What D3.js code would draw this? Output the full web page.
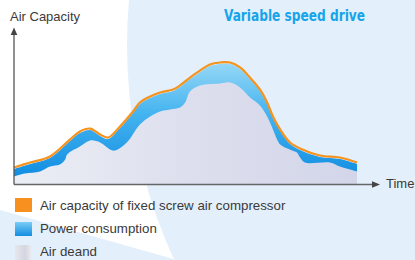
<!DOCTYPE html>
<html>
<head>
<meta charset="utf-8">
<script src="https://cdn.jsdelivr.net/npm/d3@7"></script>
<style>
  body { margin: 0; background: #fff; }
  svg { display: block; font-family: "Liberation Sans", Arial, sans-serif; }
</style>
</head>
<body>
<div class="chart"></div>
<script>
var svgWidth = 415;
var svgHeight = 260;

// time runs 0..100 along the x axis, values 0..100 up the y axis
var capTime = [0, 4.7, 10.5, 16.3, 19.2, 22.2, 25.1, 27.4, 30.9, 34.7, 36.7, 39.7, 42.6, 46.4, 48.4, 51.3,
    54.2, 57.1, 60.1, 63.0, 65.9, 68.8, 71.7, 73.8, 75.5, 77.6, 80.5, 83.4, 89.2, 95.0, 100];
var capacity = [11.0, 14.2, 18.1, 29.0, 34.2, 36.1, 32.3, 30.3, 37.4, 47.1, 52.9, 56.8, 59.4, 61.3, 63.9, 69.0,
    73.5, 77.4, 78.7, 78.7, 75.5, 69.0, 61.3, 52.9, 43.9, 35.5, 27.1, 23.2, 18.7, 17.4, 14.2];
var power = [10.0, 13.2, 17.1, 28.0, 33.2, 35.1, 31.3, 29.3, 36.4, 46.1, 51.9, 55.8, 58.4, 60.3, 62.9, 68.0,
    72.5, 76.4, 77.7, 77.7, 74.5, 68.0, 60.3, 51.9, 42.9, 34.5, 26.1, 22.2, 17.7, 16.4, 13.2];

var demandTime = [0, 3.2, 7.6, 10.5, 13.4, 14.9, 15.5, 19.2, 22.2, 25.1, 28.0, 29.4, 32.9, 36.7, 39.7, 42.6,
    45.5, 48.4, 49.9, 51.3, 54.2, 60.1, 63.0, 65.9, 68.8, 71.7, 73.8, 75.5, 76.7, 77.6, 79.0, 81.9, 82.5,
    83.4, 84.8, 92.1, 95.0, 100];
var demand = [5.2, 7.1, 8.4, 11.6, 12.9, 16.1, 19.4, 24.5, 28.4, 27.1, 22.6, 21.9, 27.1, 38.7, 43.9, 47.1,
    48.4, 49.7, 52.9, 60.0, 63.9, 65.2, 65.8, 62.6, 56.1, 51.0, 43.9, 35.5, 29.0, 25.8, 23.9, 21.3, 20.6,
    17.4, 14.2, 14.2, 11.6, 8.4];

var legendLabels = ["Air capacity of fixed screw air compressor", "Power consumption", "Air deand"];

var svg = d3.select(".chart")
    .append("svg")
    .attr("width", svgWidth)
    .attr("height", svgHeight);

var defs = svg.append("defs");

var blueGrad = defs.append("linearGradient").attr("id", "blueGrad")
    .attr("gradientUnits", "userSpaceOnUse")
    .attr("x1", 0).attr("y1", 62).attr("x2", 0).attr("y2", 175);
blueGrad.append("stop").attr("offset", 0).attr("stop-color", "#98d8f6");
blueGrad.append("stop").attr("offset", 0.45).attr("stop-color", "#45b4f0");
blueGrad.append("stop").attr("offset", 1).attr("stop-color", "#138fe2");

var greyGrad = defs.append("linearGradient").attr("id", "greyGrad")
    .attr("gradientUnits", "userSpaceOnUse")
    .attr("x1", 14).attr("y1", 0).attr("x2", 357).attr("y2", 0);
greyGrad.append("stop").attr("offset", 0).attr("stop-color", "#eceef5");
greyGrad.append("stop").attr("offset", 0.5).attr("stop-color", "#dddfee");
greyGrad.append("stop").attr("offset", 1).attr("stop-color", "#d3d6e9");

var swBlue = defs.append("linearGradient").attr("id", "swBlue")
    .attr("x1", 0).attr("y1", 0).attr("x2", 0).attr("y2", 1);
swBlue.append("stop").attr("offset", 0).attr("stop-color", "#7acdf6");
swBlue.append("stop").attr("offset", 1).attr("stop-color", "#128ee0");

var swGrey = defs.append("linearGradient").attr("id", "swGrey")
    .attr("x1", 0).attr("y1", 0).attr("x2", 1).attr("y2", 0);
swGrey.append("stop").attr("offset", 0).attr("stop-color", "#e6e7ee");
swGrey.append("stop").attr("offset", 0.6).attr("stop-color", "#d3d5e0");
swGrey.append("stop").attr("offset", 1).attr("stop-color", "#eceef4");

// background shapes
svg.append("circle")
    .attr("cx", 639).attr("cy", 45).attr("r", 512)
    .attr("fill", "#e3effa");
svg.append("path")
    .attr("d", "M0,210 L177,260 L0,260 Z")
    .attr("fill", "#e3effa");

var x = d3.scaleLinear().domain([0, 100]).range([14, 357]);
var y = d3.scaleLinear().domain([0, 100]).range([184.5, 29.5]);

var smooth = d3.curveCatmullRom.alpha(0.5);

var powerArea = d3.area()
    .x((d, i) => x(capTime[i]))
    .y0(y(0))
    .y1(d => y(d))
    .curve(smooth);

var demandArea = d3.area()
    .x((d, i) => x(demandTime[i]))
    .y0(y(0))
    .y1(d => y(d))
    .curve(smooth);

var capLine = d3.line()
    .x((d, i) => x(capTime[i]))
    .y(d => y(d))
    .curve(smooth);

svg.append("path").datum(power)
    .attr("d", powerArea)
    .attr("fill", "url(#blueGrad)");

svg.append("path").datum(demand)
    .attr("d", demandArea)
    .attr("fill", "url(#greyGrad)");

svg.append("path").datum(capacity)
    .attr("d", capLine)
    .attr("fill", "none")
    .attr("stroke", "#f7921d")
    .attr("stroke-width", 2.2);

// axes with arrows
var axisColor = "#444";
svg.append("line")
    .attr("x1", x(0)).attr("y1", y(0))
    .attr("x2", 373).attr("y2", y(0))
    .attr("stroke", "#666").attr("stroke-width", 1.3);
svg.append("path")
    .attr("d", `M380,${y(0)} L372,${y(0) - 3.2} L372,${y(0) + 3.2} Z`)
    .attr("fill", axisColor);
svg.append("line")
    .attr("x1", x(0)).attr("y1", y(0))
    .attr("x2", x(0)).attr("y2", 34)
    .attr("stroke", "#555").attr("stroke-width", 1.3);
svg.append("path")
    .attr("d", `M${x(0)},27.5 L${x(0) - 3.3},35 L${x(0) + 3.3},35 Z`)
    .attr("fill", axisColor);

svg.append("text")
    .attr("x", 10).attr("y", 21)
    .attr("font-size", 13)
    .attr("fill", "#3a3a3a")
    .text("Air Capacity");

svg.append("text")
    .attr("x", 386).attr("y", 187.5)
    .attr("font-size", 13)
    .attr("fill", "#3a3a3a")
    .text("Time");

svg.append("text")
    .attr("x", 224).attr("y", 20.5)
    .attr("font-size", 15.5)
    .attr("font-weight", "bold")
    .attr("font-family", "'Liberation Sans Narrow', 'DejaVu Sans Condensed', sans-serif")
    .attr("textLength", 141)
    .attr("lengthAdjust", "spacingAndGlyphs")
    .attr("fill", "#16a4eb")
    .text("Variable speed drive");

// legend
var swatches = ["#f7901e", "url(#swBlue)", "url(#swGrey)"];
var swY = [198, 222, 245];
var txtY = [209.5, 232.5, 256];

var legend = svg.append("g");
legend.selectAll("rect").data(legendLabels).enter()
    .append("rect")
    .attr("x", 15)
    .attr("y", (d, i) => swY[i])
    .attr("width", 17)
    .attr("height", (d, i) => i == 2 ? 15 : 14)
    .attr("fill", (d, i) => swatches[i]);

legend.selectAll("text").data(legendLabels).enter()
    .append("text")
    .attr("x", 40)
    .attr("y", (d, i) => txtY[i])
    .attr("font-size", 13.3)
    .attr("fill", "#3a3a3a")
    .text(d => d);
</script>
</body>
</html>
